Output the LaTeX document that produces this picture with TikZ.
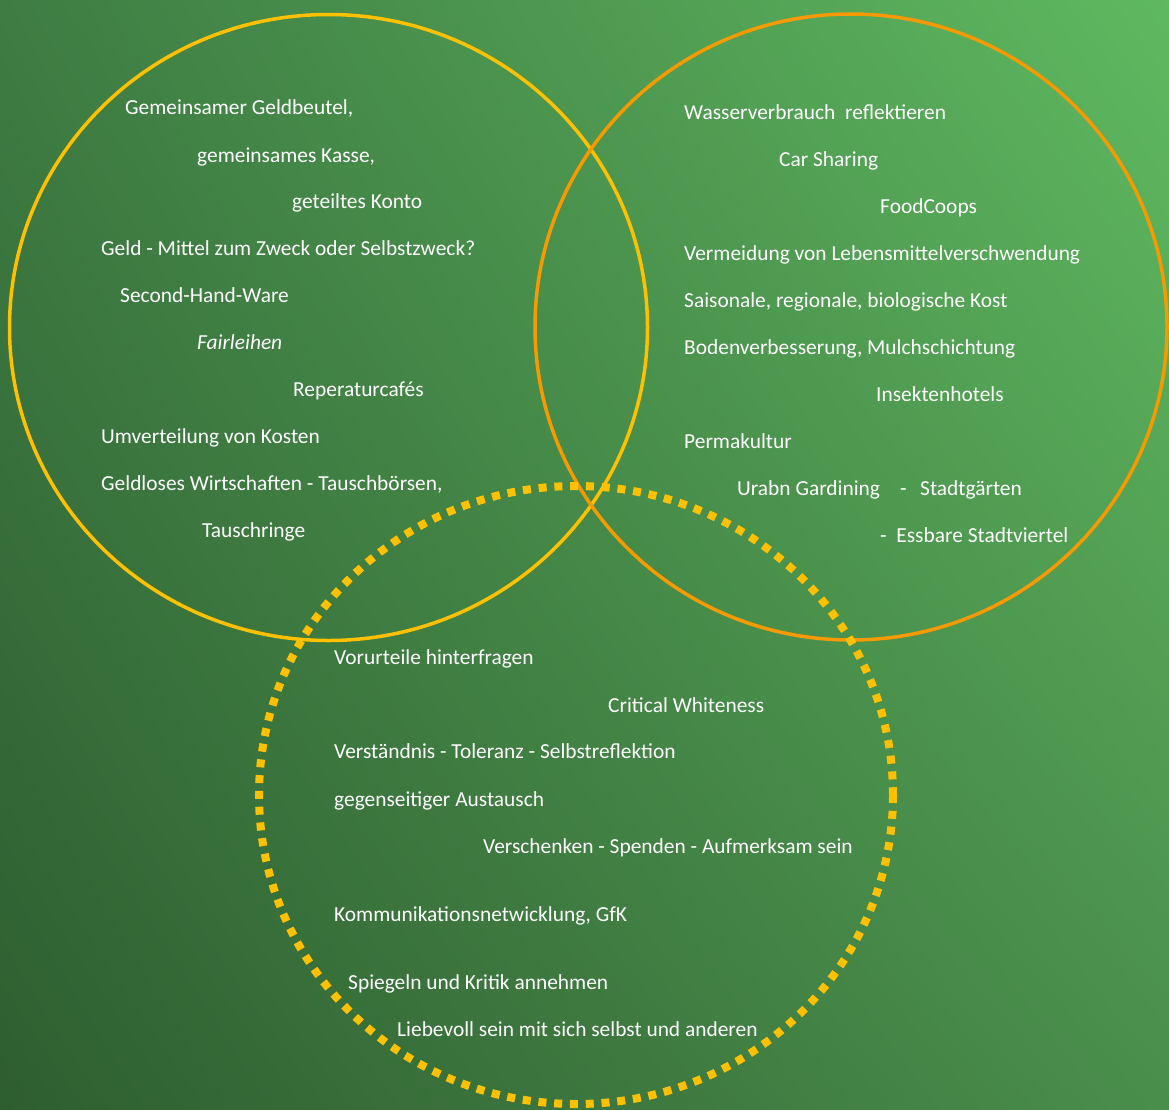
\documentclass[tikz,border=0pt]{standalone}
\usepackage{fontspec}
\setmainfont{Carlito}
\usetikzlibrary{shadings}
\definecolor{bgLL}{HTML}{2E5E30}
\definecolor{bgUR}{HTML}{5FB960}
\definecolor{bgUL}{HTML}{3E7C43}
\definecolor{bgLR}{HTML}{4A8E4C}
\definecolor{ringyellow}{HTML}{FFC000}
\definecolor{ringorange}{HTML}{F79A00}
\begin{document}
\begin{tikzpicture}[x=1pt,y=-1pt,
  item/.style={anchor=west,inner sep=0pt,text=white,text height=14pt,text depth=4pt,font=\fontsize{21.4}{25}\selectfont},
  ring/.style={line width=3.5pt},
  dotring/.style={line width=8pt,draw=ringyellow,dash pattern=on 8pt off 7.8pt}]
\shade[lower left=bgLL,upper right=bgUR,upper left=bgUL,lower right=bgLR] (0,0) rectangle (1169,1109);
\useasboundingbox (0,0) rectangle (1169,1109);
\draw[ring,draw=ringyellow] (328.5,327.5) ellipse[x radius=319,y radius=313];
\draw[ring,draw=ringorange] (851,327) ellipse[x radius=316,y radius=313];
\draw[dotring] (576,795) ellipse[x radius=317,y radius=309];
% left
\node[item] (l1) at (125,109) {Gemeinsamer Geldbeutel,};
\node[item] (l2) at (197,157) {gemeinsames Kasse,};
\node[item] (l3) at (292,203) {geteiltes Konto};
\node[item] (l4) at (101,250) {Geld - Mittel zum Zweck oder Selbstzweck?};
\node[item] (l5) at (120,297) {Second-Hand-Ware};
\node[item] (l6) at (197,344) {\itshape Fairleihen};
\node[item] (l7) at (293,391) {Reperaturcafés};
\node[item] (l8) at (101,438) {Umverteilung von Kosten};
\node[item] (l9) at (101,485) {Geldloses Wirtschaften - Tauschbörsen,};
\node[item] (l10) at (202,532) {Tauschringe};
% right
\node[item] (r1) at (684,114) {Wasserverbrauch\ \ reflektieren};
\node[item] (r2) at (779,161) {Car Sharing};
\node[item] (r3) at (880,208) {FoodCoops};
\node[item] (r4) at (684,255) {Vermeidung von Lebensmittelverschwendung};
\node[item] (r5) at (684,302) {Saisonale, regionale, biologische Kost};
\node[item] (r6) at (684,349) {Bodenverbesserung, Mulchschichtung};
\node[item] (r7) at (876,396) {Insektenhotels};
\node[item] (r8) at (684,443) {Permakultur};
\node[item] (r9) at (737,490) {Urabn Gardining};
\node[item] (r9b) at (900,490) {-};
\node[item] (r9c) at (920,490) {Stadtgärten};
\node[item] (r10) at (880,537) {-\ \ Essbare Stadtviertel};
% bottom
\node[item] (b1) at (334,659) {Vorurteile hinterfragen};
\node[item] (b2) at (608,707) {Critical Whiteness};
\node[item] (b3) at (334,753) {Verständnis - Toleranz - Selbstreflektion};
\node[item] (b4) at (334,801) {gegenseitiger Austausch};
\node[item] (b5) at (483,848) {Verschenken - Spenden - Aufmerksam sein};
\node[item] (b6) at (334,916) {Kommunikationsnetwicklung, GfK};
\node[item] (b7) at (348,984) {Spiegeln und Kritik annehmen};
\node[item] (b8) at (397,1031) {Liebevoll sein mit sich selbst und anderen};
\end{tikzpicture}
\end{document}
